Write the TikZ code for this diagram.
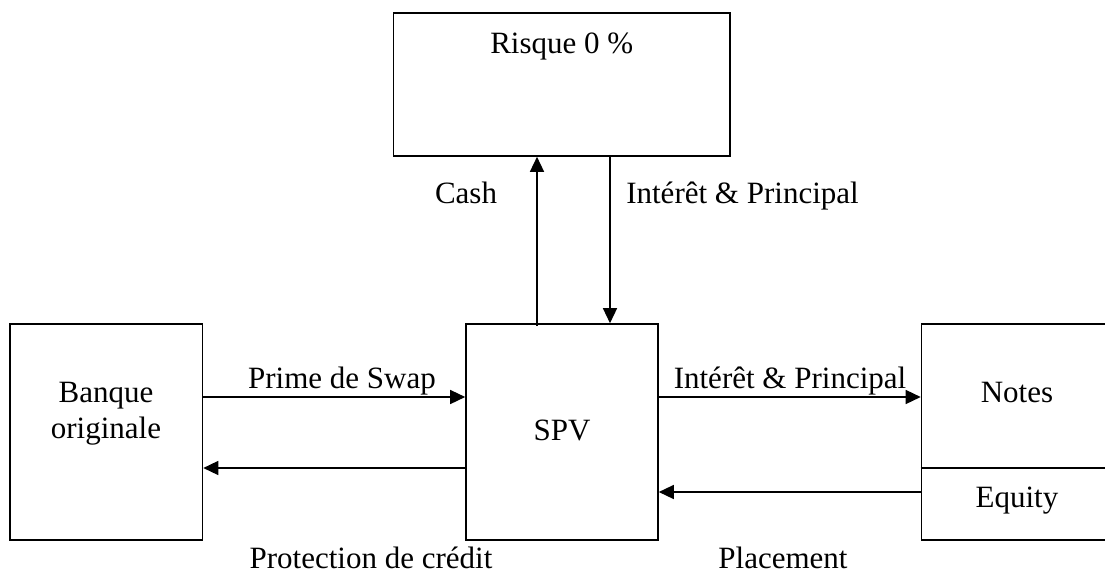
\documentclass[tikz,border=0pt]{standalone}
\usepackage{fontspec}
\setmainfont{Liberation Serif}
\usetikzlibrary{arrows.meta,calc}

\begin{document}
\begin{tikzpicture}[x=1pt,y=-1pt,
    box/.style={draw, line width=1.6pt, rectangle, inner sep=0pt},
    flow/.style={line width=1.4pt, -{Triangle[length=15pt,width=14pt]}},
    txt/.style={anchor=base, inner sep=0pt, font=\fontsize{31}{36}\selectfont, align=center}]
  \useasboundingbox (0,0) rectangle (1105,573);

  % boxes
  \node[box, minimum width=336.5pt, minimum height=143pt] (risk) at (561.75,84.5) {};
  \node[box, minimum width=192.5pt, minimum height=216pt] (bank) at (106.25,432) {};
  \node[box, minimum width=192pt,   minimum height=216pt] (spv)  at (562,432) {};
  \node[box, minimum width=190pt,   minimum height=216pt] (notes) at (1016.5,432) {};
  \draw[line width=1.6pt] (notes.west |- 0,468) -- (notes.east |- 0,468);

  % box texts
  \node[txt] (risktxt) at (561.75,53) {Risque 0 \%};
  \node[txt] (banktxt) at (106,438) {Banque\\originale};
  \node[txt] (spvtxt) at (562,440) {SPV};
  \node[txt] (notestxt) at (1017,402) {Notes};
  \node[txt] (equitytxt) at (1017,507) {Equity};

  % attachment points on the boxes
  \coordinate (cashS) at (spv.north -| 537,0);
  \coordinate (cashE) at (risk.south -| 537,0);
  \coordinate (intS) at (risk.south -| 610,0);
  \coordinate (intE) at (spv.north -| 610,0);

  % flows
  \draw[flow] ($(cashS)+(0,3)$) -- (cashE);
  \draw[flow] (intS) -- (intE);
  \draw[flow] (bank.east |- 0,397) -- (spv.west |- 0,397);
  \draw[flow] (spv.west |- 0,468) -- (bank.east |- 0,468);
  \draw[flow] (spv.east |- 0,397) -- (notes.west |- 0,397);
  \draw[flow] (notes.west |- 0,492) -- (spv.east |- 0,492);

  % flow labels
  \node[txt] (cash) at (466,203) {Cash};
  \node[txt] (intup) at (742.5,203) {Intérêt \& Principal};
  \node[txt] (prime) at (342,388) {Prime de Swap};
  \node[txt] (prot) at (371,568) {Protection de crédit};
  \node[txt] (intnotes) at (790,388) {Intérêt \& Principal};
  \node[txt] (place) at (783,568) {Placement};
\end{tikzpicture}
\end{document}
